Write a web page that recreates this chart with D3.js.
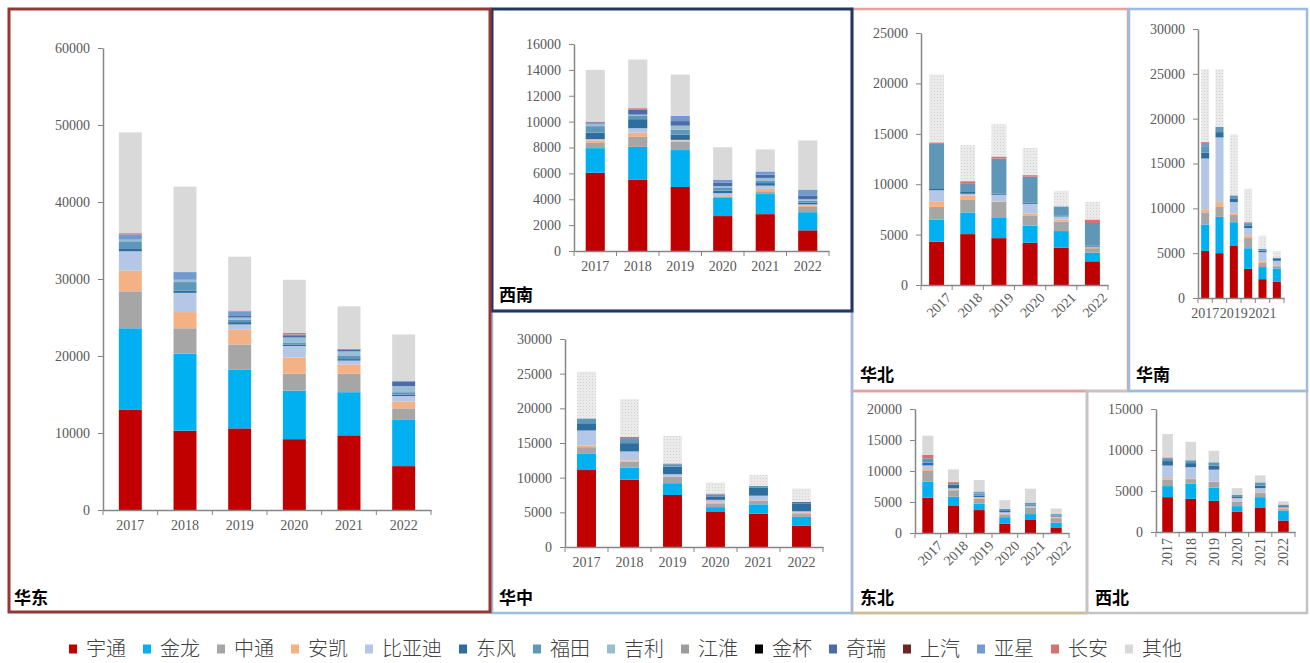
<!DOCTYPE html>
<html>
<head>
<meta charset="utf-8">
<script src="https://cdn.jsdelivr.net/npm/d3@7"></script>
<style>
  html, body { margin: 0; padding: 0; background: #fff; }
  svg { display: block; }
</style>
</head>
<body>
<svg id="chart" width="1310" height="663"></svg>
<script>
// years and brands
var years = ['2017', '2018', '2019', '2020', '2021', '2022'];
var brands = ['宇通', '金龙', '中通', '安凯', '比亚迪', '东风', '福田', '吉利', '江淮', '金杯', '奇瑞', '上汽', '亚星', '长安', '其他'];
var colors = ['#C00000', '#00B0F0', '#A6A6A6', '#F4B183', '#B4C7E7', '#2E6E9E', '#5E97B8', '#98BDD4', '#9C9C9C', '#000000', '#4B6CA8', '#6B2626', '#729ACF', '#D47171', '#D9D9D9'];

// one row per brand, one value per year
var huadong = [
  [13000, 10300, 10600, 9200, 9700, 5700],
  [10600, 10000, 7600, 6300, 5600, 6000],
  [4800, 3300, 3300, 2200, 2400, 1500],
  [2700, 2100, 1900, 2100, 1200, 900],
  [2500, 2500, 700, 1500, 500, 700],
  [300, 300, 300, 200, 200, 200],
  [1000, 1100, 300, 200, 400, 300],
  [200, 300, 300, 700, 600, 800],
  [0, 0, 0, 0, 0, 0],
  [0, 0, 0, 0, 0, 0],
  [0, 0, 200, 300, 200, 600],
  [0, 0, 0, 0, 0, 0],
  [700, 1000, 600, 100, 0, 100],
  [150, 0, 100, 200, 150, 0],
  [13100, 11100, 7000, 6900, 5500, 6000]
];
var xinan = [
  [6050, 5500, 4950, 2700, 2850, 1600],
  [1900, 2550, 2850, 1400, 1550, 1400],
  [400, 770, 640, 120, 220, 400],
  [200, 330, 100, 100, 180, 100],
  [100, 340, 50, 150, 250, 100],
  [500, 700, 400, 200, 200, 150],
  [500, 250, 400, 200, 200, 150],
  [200, 100, 300, 150, 200, 100],
  [0, 0, 0, 0, 0, 0],
  [0, 0, 0, 0, 0, 0],
  [100, 400, 350, 250, 250, 300],
  [0, 0, 0, 0, 0, 0],
  [0, 0, 400, 250, 250, 450],
  [50, 100, 0, 0, 0, 0],
  [4000, 3760, 3200, 2500, 1700, 3800]
];
var huazhong = [
  [11100, 9700, 7500, 5050, 4800, 3100],
  [2400, 1750, 1700, 700, 1350, 1250],
  [900, 830, 950, 550, 550, 400],
  [250, 200, 50, 150, 50, 250],
  [2150, 1300, 300, 350, 650, 150],
  [1050, 1200, 1100, 500, 1200, 1050],
  [700, 500, 350, 300, 200, 150],
  [0, 0, 0, 0, 0, 0],
  [0, 0, 0, 0, 0, 0],
  [0, 0, 0, 0, 0, 0],
  [0, 200, 0, 0, 0, 150],
  [0, 0, 0, 0, 0, 0],
  [0, 0, 0, 0, 0, 0],
  [0, 200, 100, 100, 0, 0],
  [6750, 5450, 4000, 1600, 1600, 1950]
];
var huabei = [
  [4300, 5050, 4650, 4200, 3700, 2350],
  [2200, 2150, 2000, 1700, 1650, 850],
  [1250, 1300, 1600, 950, 950, 450],
  [500, 350, 50, 250, 200, 150],
  [1150, 200, 650, 950, 300, 0],
  [200, 250, 100, 100, 100, 100],
  [4400, 800, 3500, 2600, 900, 2250],
  [0, 0, 0, 0, 0, 0],
  [0, 0, 0, 0, 0, 0],
  [0, 0, 0, 0, 0, 0],
  [0, 0, 0, 0, 0, 0],
  [0, 0, 0, 0, 0, 0],
  [0, 0, 0, 0, 0, 0],
  [150, 200, 200, 150, 0, 350],
  [6750, 3570, 3200, 2700, 1550, 1750]
];
var huanan = [
  [5250, 5000, 5800, 3250, 2100, 1800],
  [2950, 4050, 2650, 2300, 1350, 1500],
  [1350, 1100, 800, 1150, 450, 250],
  [350, 550, 200, 300, 200, 100],
  [5650, 7200, 1250, 800, 1000, 500],
  [650, 600, 350, 300, 200, 200],
  [650, 600, 400, 250, 200, 150],
  [0, 0, 0, 0, 0, 0],
  [0, 0, 0, 0, 0, 0],
  [0, 0, 0, 0, 0, 0],
  [0, 0, 0, 0, 0, 0],
  [0, 0, 0, 0, 0, 0],
  [450, 0, 0, 0, 0, 0],
  [100, 0, 0, 100, 0, 0],
  [8100, 6400, 6800, 3750, 1450, 750]
];
var dongbei = [
  [5700, 4450, 3700, 1500, 2100, 900],
  [2550, 1400, 1050, 1050, 950, 750],
  [1750, 1050, 750, 450, 1000, 750],
  [300, 150, 150, 100, 150, 150],
  [600, 150, 150, 250, 200, 100],
  [450, 600, 250, 200, 200, 150],
  [700, 300, 300, 350, 300, 250],
  [0, 0, 0, 0, 0, 0],
  [0, 0, 0, 0, 0, 0],
  [0, 0, 0, 0, 0, 0],
  [0, 0, 0, 0, 0, 0],
  [0, 0, 0, 0, 0, 0],
  [0, 0, 350, 0, 0, 0],
  [550, 150, 0, 0, 0, 0],
  [3100, 2000, 1850, 1400, 2250, 900]
];
var xibei = [
  [4250, 4050, 3800, 2500, 3000, 1400],
  [1350, 1850, 1600, 650, 1250, 1200],
  [800, 550, 700, 550, 500, 200],
  [200, 100, 50, 100, 100, 100],
  [1500, 1350, 1450, 350, 500, 100],
  [550, 500, 500, 200, 300, 150],
  [350, 350, 400, 200, 400, 200],
  [0, 0, 0, 0, 0, 0],
  [0, 0, 0, 0, 0, 0],
  [0, 0, 0, 0, 0, 0],
  [0, 0, 0, 0, 0, 0],
  [0, 0, 0, 0, 0, 0],
  [0, 0, 0, 0, 0, 0],
  [100, 0, 0, 0, 0, 0],
  [2850, 2250, 1400, 800, 850, 400]
];

var svg = d3.select('#chart');
var tickFont = '"Liberation Serif", "Times New Roman", serif';
var cjkFont = '"Noto Sans CJK SC", "Noto Sans", sans-serif';

var defs = svg.append('defs');
var pat = defs.append('pattern').attr('id', 'dots')
    .attr('width', 3).attr('height', 3).attr('patternUnits', 'userSpaceOnUse');
pat.append('rect').attr('width', 3).attr('height', 3).attr('fill', '#EAEAEA');
pat.append('rect').attr('x', 1).attr('y', 1).attr('width', 1).attr('height', 1).attr('fill', '#D2D2D2');

// frames, drawn in order so shared edges look like the original
var frames = [
  {x: 852, y: 9, w: 276, h: 382, c: '#E3A1A1', sw: 2.5},
  {x: 852, y: 391, w: 235, h: 222, c: '#E3A1A1', sw: 2.5},
  {x: 1087, y: 391, w: 220, h: 222, c: '#C3C3C3', sw: 2.5},
  {x: 1129, y: 9, w: 178, h: 382, c: '#9DBCE0', sw: 2.5},
  {x: 492, y: 311, w: 360, h: 302, c: '#9DBCE0', sw: 2.5},
  {x: 492, y: 9, w: 360, h: 302, c: '#1F3864', sw: 3},
  {x: 9, y: 9, w: 481, h: 603, c: '#953735', sw: 3}
];
frames.forEach(function(f) {
  svg.append('rect').attr('x', f.x).attr('y', f.y).attr('width', f.w).attr('height', f.h)
    .attr('fill', 'none').attr('stroke', f.c).attr('stroke-width', f.sw);
});
svg.append('line').attr('x1', 853).attr('x2', 1086).attr('y1', 613).attr('y2', 613)
  .attr('stroke', '#C9C19B').attr('stroke-width', 2.5);

var panels = [
  {title: '华东', data: huadong, ax: 103, ax1: 431, yTop: 48, yBot: 510, max: 60000, step: 10000, pad: 0.58, rot: 0, tx: 14, ty: 598, dotted: false},
  {title: '西南', data: xinan, ax: 574, ax1: 829, yTop: 44, yBot: 251, max: 16000, step: 2000, pad: 0.55, rot: 0, tx: 499, ty: 295, dotted: false},
  {title: '华中', data: huazhong, ax: 565, ax1: 823, yTop: 339, yBot: 547, max: 30000, step: 5000, pad: 0.56, rot: 0, tx: 499, ty: 598, dotted: true},
  {title: '华北', data: huabei, ax: 921, ax1: 1108, yTop: 33, yBot: 285, max: 25000, step: 5000, pad: 0.52, rot: -45, tx: 860, ty: 375, dotted: true},
  {title: '华南', data: huanan, ax: 1198, ax1: 1284, yTop: 29, yBot: 298, max: 30000, step: 5000, pad: 0.44, rot: 0, every: 2, tx: 1136, ty: 375, dotted: true},
  {title: '东北', data: dongbei, ax: 915, ax1: 1069, yTop: 409, yBot: 533, max: 20000, step: 5000, pad: 0.57, rot: -45, tx: 860, ty: 598, dotted: false},
  {title: '西北', data: xibei, ax: 1156, ax1: 1295, yTop: 409, yBot: 532, max: 15000, step: 5000, pad: 0.54, rot: -90, tx: 1095, ty: 598, dotted: false}
];

panels.forEach(function(p) {
  var g = svg.append('g');
  var x = d3.scaleBand().domain(years).range([p.ax, p.ax1]).paddingInner(p.pad).paddingOuter(p.pad / 2);
  var y = d3.scaleLinear().domain([0, p.max]).range([p.yBot, p.yTop]);

  var rows = years.map(function(yr, i) {
    var o = {year: yr};
    brands.forEach(function(b, k) { o[b] = p.data[k][i]; });
    return o;
  });
  var series = d3.stack().keys(brands)(rows);

  g.selectAll('g.s').data(series).enter().append('g')
    .attr('fill', function(d, k) {
      return (k === brands.length - 1 && p.dotted) ? 'url(#dots)' : colors[k];
    })
    .selectAll('rect').data(function(d) { return d; }).enter().append('rect')
    .attr('x', function(d) { return x(d.data.year); })
    .attr('width', x.bandwidth())
    .attr('y', function(d) { return y(d[1]); })
    .attr('height', function(d) { return y(d[0]) - y(d[1]); });

  // y axis
  var ya = g.append('g').attr('transform', 'translate(' + p.ax + ',0)')
    .call(d3.axisLeft(y).tickValues(d3.range(0, p.max + 1, p.step)).tickSize(5).tickSizeOuter(0).tickPadding(8).tickFormat(d3.format('d')));

  // x axis: line plus ticks at band edges
  var xa = g.append('g').attr('transform', 'translate(0,' + p.yBot + ')')
    .call(d3.axisBottom(x).tickSize(0).tickSizeOuter(0).tickPadding(10));
  var stepW = x.step();
  d3.range(0, years.length + 1).forEach(function(i) {
    xa.append('line').attr('x1', p.ax + i * stepW).attr('x2', p.ax + i * stepW)
      .attr('y1', 0).attr('y2', 5).attr('stroke', '#868686');
  });

  [ya, xa].forEach(function(a) {
    a.select('.domain').attr('stroke', '#868686').attr('stroke-width', 1.5);
    a.selectAll('.tick line').attr('stroke', '#868686');
    a.selectAll('text').attr('fill', '#595959').style('font-family', tickFont).style('font-size', '14px');
  });

  if (p.every) {
    xa.selectAll('.tick text').style('display', function(d, i) { return i % p.every ? 'none' : null; });
  }
  if (p.rot === -45) {
    xa.selectAll('.tick text')
      .attr('text-anchor', 'end').attr('dy', '0.35em')
      .attr('transform', 'translate(5,3) rotate(-45)');
  } else if (p.rot === -90) {
    xa.selectAll('.tick text')
      .attr('text-anchor', 'end').attr('dy', '0.35em').attr('y', 0).attr('x', -6)
      .attr('transform', 'rotate(-90)');
  }

  svg.append('text').attr('x', p.tx).attr('y', p.ty).attr('dy', '0.35em')
    .style('font-family', cjkFont).style('font-size', '17px').style('font-weight', 'bold')
    .attr('fill', '#000').text(p.title);
});

// legend
var lx = 69;
brands.forEach(function(b, k) {
  var item = svg.append('g').attr('transform', 'translate(' + lx + ',649)');
  item.append('rect').attr('x', 0).attr('y', -4.5).attr('width', 8).attr('height', 9).attr('fill', colors[k]);
  var t = item.append('text').attr('x', 17).attr('y', 0).attr('dy', '0.36em')
    .style('font-family', cjkFont).style('font-size', '20px').style('font-weight', 300)
    .attr('fill', '#404040').text(b);
  lx += 17 + t.node().getComputedTextLength() + 17;
});
</script>
</body>
</html>
